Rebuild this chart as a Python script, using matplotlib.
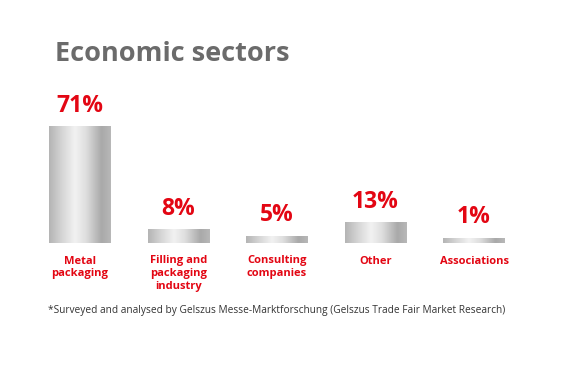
import numpy as np
import matplotlib.pyplot as plt
from matplotlib.colors import LinearSegmentedColormap

categories = ["Metal\npackaging", "Filling and\npackaging\nindustry", "Consulting\ncompanies",
              "Other", "Associations"]
percent_labels = ["71%", "8%", "5%", "13%", "1%"]
# bar heights as drawn in the picture (small ones get a minimum height)
bar_heights = [71, 8, 4, 12.5, 3]

red = "#e30613"
plt.rcParams['font.family'] = ['Open Sans', 'DejaVu Sans']

fig = plt.figure(figsize=(5.8, 3.75), dpi=100)
ax = fig.add_axes([0, 0.352, 1, 0.4357])
ax.set_xlim(-80 / 98.5, 500 / 98.5)
ax.set_ylim(0, 100)
ax.axis('off')

# silver cylinder gradient
silver = LinearSegmentedColormap.from_list(
    "silver", [(0, "#b4b4b4"), (0.2, "#d4d4d4"), (0.42, "#f2f2f2"), (0.6, "#dedede"),
               (0.85, "#a9a9a9"), (1, "#b8b8b8")])
grad = np.linspace(0, 1, 256).reshape(1, -1)

width = 0.62
for i, h in enumerate(bar_heights):
    ax.imshow(grad, cmap=silver, aspect='auto', extent=[i - width / 2, i + width / 2, 0, h],
              interpolation='bicubic', zorder=2)
    ax.annotate(percent_labels[i], (i, h), xytext=(0, 6.5), textcoords='offset points',
                ha='center', va='bottom', color=red, fontsize=16.5, fontweight='bold')
    ax.annotate(categories[i], (i, 0), xytext=(0, -9), textcoords='offset points',
                ha='center', va='top', color=red, fontsize=8, fontweight='bold',
                linespacing=1.2)

fig.text(55 / 580, 1 - 54 / 375, "Economic sectors", fontsize=19.5, fontweight='bold',
         color="#6b6b6b", va='center', ha='left')
fig.text(48 / 580, 1 - 311 / 375,
         "*Surveyed and analysed by Gelszus Messe-Marktforschung (Gelszus Trade Fair Market Research)",
         fontsize=7.3, color="#333333", va='center', ha='left')

fig.savefig("out.png", dpi=100, facecolor='white')
